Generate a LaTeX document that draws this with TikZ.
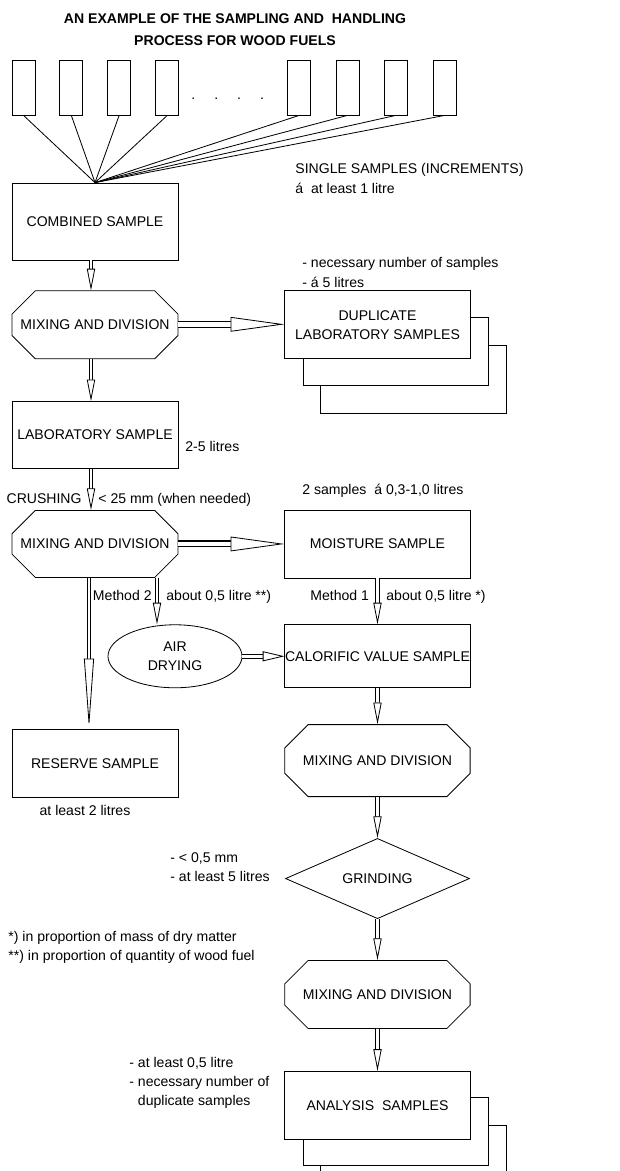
\documentclass[tikz,border=0pt]{standalone}
\usepackage{fontspec}
\setmainfont{Liberation Sans}
\usetikzlibrary{positioning}
\usetikzlibrary{shapes.geometric}
\usetikzlibrary{shapes.misc}
\usetikzlibrary{arrows.meta}
\usetikzlibrary{backgrounds}

\begin{document}
\begin{tikzpicture}[
  line width=0.7pt,
  every node/.style={font=\fontsize{12}{16.4}\selectfont},
  inc/.style={draw, minimum width=0.69cm, minimum height=1.65cm, inner sep=0pt},
  box/.style={draw, fill=white, align=center, minimum width=4.98cm, minimum height=2.04cm, inner sep=0pt},
  wbox/.style={box, minimum width=5.56cm},
  mixbox/.style={box, chamfered rectangle, chamfered rectangle xsep=0.5cm, chamfered rectangle ysep=0.55cm},
  note/.style={inner sep=0pt, align=left},
  flow/.style={line width=0.9pt, double, double distance=2.2pt, -{Triangle[fill=white, line width=0.7pt, length=18.5pt, width=7pt]}},
  airflow/.style={line width=0.9pt, double, double distance=2.8pt, -{Triangle[fill=white, line width=0.7pt, length=18.5pt, width=8.5pt]}},
  sideflow/.style={line width=0.9pt, double, double distance=4.2pt, -{Triangle[fill=white, line width=0.7pt, length=46pt, width=12.5pt]}},
  longflow/.style={line width=0.9pt, double, double distance=2.2pt, -{Triangle[fill=white, line width=0.7pt, length=60pt, width=8.5pt]}}
]
\useasboundingbox (0,0) rectangle (18.6,-35.13);

% Nodes
\node[align=center, font=\fontsize{12}{18.7}\selectfont\bfseries] (title) at (7.05,-0.9)
  {AN EXAMPLE OF THE SAMPLING AND\ \ HANDLING\\PROCESS FOR WOOD FUELS};

\node[inc] (inc1) at (0.705,-2.625) {};
\node[inc, right=0.72cm of inc1] (inc2) {};
\node[inc, right=0.72cm of inc2] (inc3) {};
\node[inc, right=0.73cm of inc3] (inc4) {};
\node[inc, right=3.24cm of inc4] (inc5) {};
\node[inc, right=0.735cm of inc5] (inc6) {};
\node[inc, right=0.735cm of inc6] (inc7) {};
\node[inc, right=0.75cm of inc7] (inc8) {};
\node (dots) at (6.83,-2.97) {.\hspace{0.57cm}.\hspace{0.57cm}.\hspace{0.57cm}.};

\node[box, minimum height=2.31cm] (cmb) at (2.85,-6.645) {COMBINED SAMPLE};
\node[mixbox, below=0.9cm of cmb] (mix1) {MIXING AND DIVISION};
\node[wbox, right=3.18cm of mix1] (dup) {DUPLICATE\\LABORATORY SAMPLES};
\node[box, below=1.26cm of mix1, minimum height=2.01cm] (lab) {LABORATORY SAMPLE};
\node[mixbox, below=1.23cm of lab, minimum height=2.01cm] (mix2) {MIXING AND DIVISION};
\node[wbox, right=3.18cm of mix2] (moist) {MOISTURE SAMPLE};
\node[box, below=4.53cm of mix2] (res) {RESERVE SAMPLE};

\node[wbox, below=1.38cm of moist, minimum height=1.89cm] (cal) {CALORIFIC VALUE SAMPLE};
\node[ellipse, draw, align=center, inner sep=0pt, minimum width=4.02cm, minimum height=1.89cm, left=1.26cm of cal] (air) {AIR\\DRYING};
\node[mixbox, minimum width=5.56cm, minimum height=2.16cm, below=1.08cm of cal] (mix3) {MIXING AND DIVISION};
\node[diamond, draw, inner sep=0pt, minimum width=5.52cm, minimum height=2.01cm, below=1.23cm of mix3] (grind) {GRINDING};
\node[mixbox, minimum width=5.56cm, below=1.23cm of grind] (mix4) {MIXING AND DIVISION};
\node[wbox, below=1.26cm of mix4] (ana) {ANALYSIS\ \ SAMPLES};

\begin{scope}[on background layer]
\node[wbox] (dup3) at ([shift={(1.07,-1.62)}]dup) {};
\node[wbox] (dup2) at ([shift={(0.54,-0.79)}]dup) {};
\node[wbox] (ana3) at ([shift={(1.07,-1.62)}]ana) {};
\node[wbox] (ana2) at ([shift={(0.54,-0.79)}]ana) {};
\end{scope}

% Notes
\node[note, anchor=north west] (single) at (8.85,-4.90) {SINGLE SAMPLES (INCREMENTS)\\á\ \ at least 1 litre};
\node[note, anchor=north west] (dupnote) at (9.06,-7.72) {- necessary number of samples\\- á 5 litres};
\node[note, anchor=base west] (labnote) at (5.55,-13.54) {2-5 litres};
\node[note, anchor=base east] (crush) at (2.46,-15.09) {CRUSHING};
\node[note, anchor=base west] (crushnote) at (2.94,-15.09) {< 25 mm (when needed)};
\node[note, anchor=base west] (moistnote) at (9.06,-14.84) {2 samples\ \ á 0,3-1,0 litres};
\node[note, anchor=base east] (meth2) at (4.56,-18.0) {Method 2};
\node[note, anchor=base west] (meth2note) at (4.98,-18.0) {about 0,5 litre **)};
\node[note, anchor=base west] (meth1) at (9.30,-18.0) {Method 1};
\node[note, anchor=base west] (meth1note) at (11.58,-18.0) {about 0,5 litre *)};
\node[note, anchor=base] (resnote) at (2.55,-24.47) {at least 2 litres};
\node[note, anchor=north west] (grindnote) at (5.1,-25.56) {- < 0,5 mm\\- at least 5 litres};
\node[note, anchor=north west] (foot) at (0.24,-27.92) {*) in proportion of mass of dry matter\\**) in proportion of quantity of wood fuel};
\node[note, anchor=north west] (ananote) at (3.87,-31.70) {- at least 0,5 litre\\- necessary number of\\\hphantom{- }duplicate samples};

% Edges
\draw (inc1.south) -- (cmb.north);
\draw (inc2.south) -- (cmb.north);
\draw (inc3.south) -- (cmb.north);
\draw (inc4.south) -- (cmb.north);
\draw (inc5.south) -- (cmb.north);
\draw (inc6.south) -- (cmb.north);
\draw (inc7.south) -- (cmb.north);
\draw (inc8.south) -- (cmb.north);

\draw[flow] ([xshift=-0.12cm]cmb.south) -- ([xshift=-0.12cm]mix1.north);
\draw[sideflow] ([yshift=0.015cm]mix1.east) -- ([yshift=0.015cm]mix1.east -| dup.west);
\draw[flow] ([xshift=-0.12cm]mix1.south) -- ([xshift=-0.12cm]lab.north);
\draw[flow] ([xshift=-0.12cm]lab.south) -- ([xshift=-0.12cm]mix2.north);
\draw[sideflow] (mix2.east) -- (mix2.east -| moist.west);
\draw[longflow] ([xshift=-0.18cm]mix2.south) -- ([xshift=-0.18cm]res.north);
\draw[flow] ([xshift=1.86cm]mix2.south) -- ([xshift=1.86cm]mix2.south |- air.north);
\draw[flow] (moist) -- (cal);
\draw[airflow] (air) -- (cal);
\draw[flow] (cal) -- (mix3);
\draw[flow] (mix3) -- (grind);
\draw[flow] (grind) -- (mix4);
\draw[flow] (mix4) -- (ana);

\end{tikzpicture}
\end{document}
